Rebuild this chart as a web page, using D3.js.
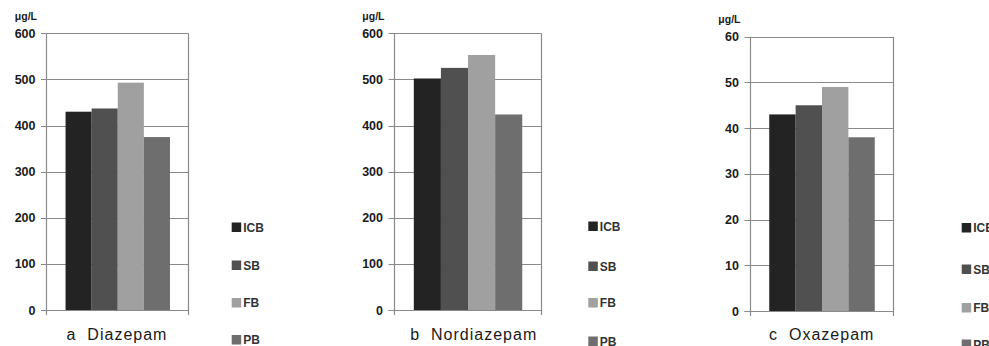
<!DOCTYPE html>
<html><head><meta charset="utf-8">
<script src="https://cdn.jsdelivr.net/npm/d3@7"></script>
<style>
html,body{margin:0;padding:0;background:#fff;}
svg{display:block;}
text{font-family:"Liberation Sans",Arial,sans-serif;}
</style></head>
<body>
<svg id="chart" width="989" height="346"></svg>
<script>
// ---- data ----
const panelLetters = ["a", "b", "c"];
const drugs = ["Diazepam", "Nordiazepam", "Oxazepam"];
const series = ["ICB", "SB", "FB", "PB"];
const diazepam = [430, 437, 493, 375];
const nordiazepam = [502, 525, 553, 424];
const oxazepam = [43, 45, 49, 38];
const yMaxes = [600, 600, 60];
const yTicksBig = [0, 100, 200, 300, 400, 500, 600];
const yTicksSmall = [0, 10, 20, 30, 40, 50, 60];
const unitLabel = "μg/L";
const colors = ["#232323", "#505050", "#a0a0a0", "#6e6e6e"];

const values = [diazepam, nordiazepam, oxazepam];
const ticks = [yTicksBig, yTicksBig, yTicksSmall];

// ---- layout ----
const layout = [
  {x0: 46, x1: 188, top: 33.3, zero: 310, titleDx: 0, legX: 231.7, legY: [227, 265, 302.5, 339.5], unitY: 20},
  {x0: 393.5, x1: 541, top: 33.3, zero: 310, titleDx: 6.5, legX: 588.3, legY: [226, 266, 302.5, 341], unitY: 20},
  {x0: 749.5, x1: 893, top: 36.7, zero: 311, titleDx: 0.5, legX: 961.7, legY: [227.5, 269, 307.5, 344], unitY: 23}
];

const svg = d3.select("#chart");
const gridColor = "#8a8a8a";

layout.forEach((L, i) => {
  const g = svg.append("g");
  const y = d3.scaleLinear().domain([0, yMaxes[i]]).range([L.zero, L.top]);
  const x = d3.scaleBand().domain(series).range([L.x0, L.x1])
    .paddingInner(0).paddingOuter(0.72).align(0.52);

  // gridlines + ticks
  g.selectAll("line.grid").data(ticks[i]).join("line")
    .attr("x1", L.x0 - 5).attr("x2", L.x1)
    .attr("y1", d => Math.round(y(d)) + 0.5).attr("y2", d => Math.round(y(d)) + 0.5)
    .attr("stroke", gridColor).attr("stroke-width", 1.2);

  // bars
  g.selectAll("rect.bar").data(values[i]).join("rect")
    .attr("x", (d, j) => x(series[j]))
    .attr("width", x.bandwidth())
    .attr("y", d => y(d))
    .attr("height", d => y(0) - y(d))
    .attr("fill", (d, j) => colors[j]);

  // vertical lines (axis and right border)
  [L.x0, L.x1].forEach(xx => {
    g.append("line")
      .attr("x1", Math.round(xx) + 0.5).attr("x2", Math.round(xx) + 0.5)
      .attr("y1", L.top).attr("y2", L.zero + 5)
      .attr("stroke", gridColor).attr("stroke-width", 1.2);
  });
  // re-draw zero line on top
  g.append("line")
    .attr("x1", L.x0 - 5).attr("x2", L.x1)
    .attr("y1", Math.round(y(0)) + 0.5).attr("y2", Math.round(y(0)) + 0.5)
    .attr("stroke", gridColor).attr("stroke-width", 1.2);

  // tick labels
  g.selectAll("text.tick").data(ticks[i]).join("text")
    .attr("x", L.x0 - 10.5).attr("y", d => y(d) + 4.5)
    .attr("text-anchor", "end")
    .attr("font-size", "12.5px").attr("font-weight", "bold")
    .attr("fill", "#1a1a1a")
    .text(d => d);

  // unit label
  g.append("text")
    .attr("x", L.x0 - 9).attr("y", L.unitY)
    .attr("text-anchor", "end")
    .attr("font-size", "10.5px").attr("font-weight", "bold")
    .attr("fill", "#1a1a1a")
    .text(unitLabel);

  // title
  g.append("text")
    .attr("x", (L.x0 + L.x1) / 2 + L.titleDx).attr("y", 340)
    .attr("text-anchor", "middle")
    .attr("font-family", "'Open Sans', sans-serif")
    .attr("font-size", "16px")
    .attr("letter-spacing", "1px")
    .attr("fill", "#1a1a1a")
    .text(panelLetters[i] + "\u00a0\u00a0" + drugs[i]);

  // legend
  series.forEach((s, j) => {
    g.append("rect")
      .attr("x", L.legX).attr("y", L.legY[j] - 4.5)
      .attr("width", 9.5).attr("height", 9.5)
      .attr("fill", colors[j]);
    g.append("text")
      .attr("x", L.legX + 11.5).attr("y", L.legY[j] + 4.5)
      .attr("font-size", "12px").attr("font-weight", "bold")
      .attr("fill", "#333")
      .text(s);
  });
});
</script>
</body></html>
